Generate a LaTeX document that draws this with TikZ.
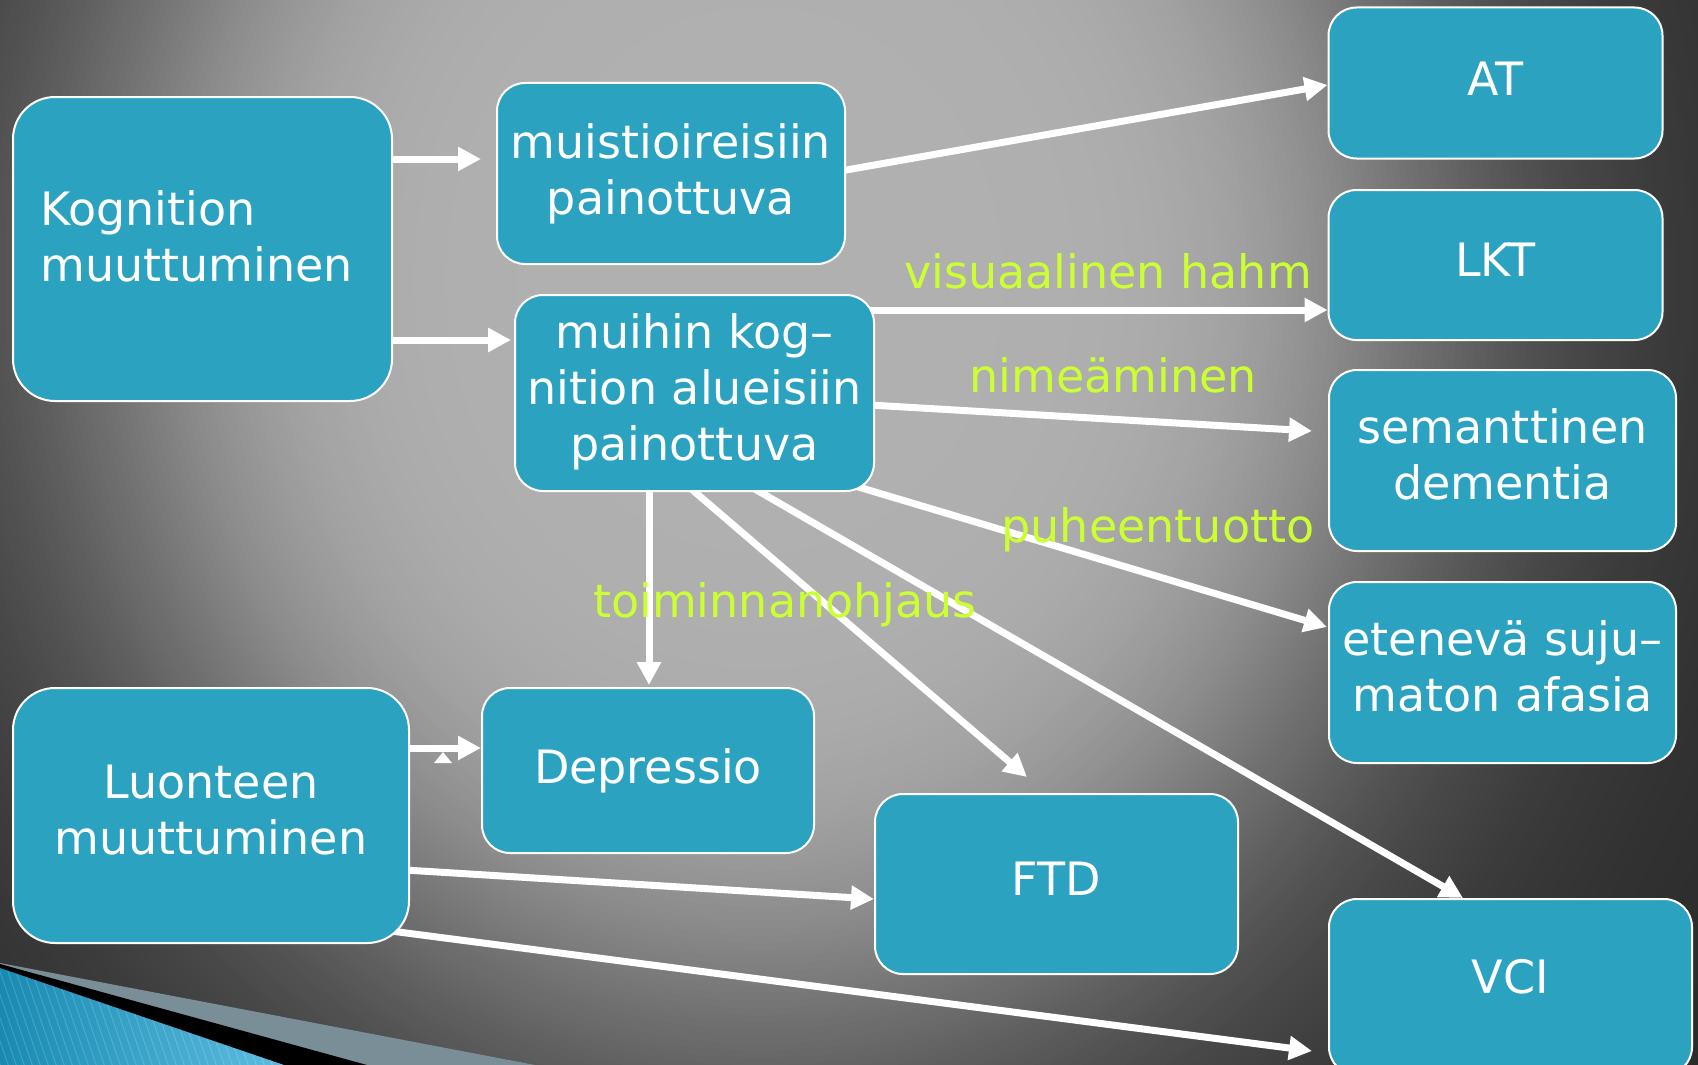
\documentclass[tikz,border=0pt]{standalone}
\usepackage{fontspec}
\setmainfont{DejaVu Sans}
\usetikzlibrary{arrows.meta,calc}
\definecolor{boxblue}{RGB}{43,162,192}
\definecolor{lbl}{RGB}{204,255,51}
\definecolor{bandgrey}{RGB}{122,142,152}
\definecolor{blueA}{RGB}{24,138,178}
\definecolor{blueB}{RGB}{95,190,225}
\pgfdeclarelayer{back}
\pgfdeclarelayer{lines}
\pgfsetlayers{back,lines,main}
\tikzset{
  box/.style={draw=white, line width=2pt, fill=boxblue, rounded corners=28pt,
    inner sep=0pt, text=white, font=\fontsize{46}{56}\selectfont, align=center},
  bigbox/.style={box, rounded corners=42pt},
  boxtext/.style={text=white, font=\fontsize{46}{56}\selectfont, inner sep=0pt},
  lbltext/.style={text=lbl, font=\fontsize{46}{56}\selectfont, inner sep=0pt, anchor=base},
  arr/.style={draw=white, line width=7pt, -{Triangle[length=23pt,width=23pt]}},
}
\begin{document}
\begin{tikzpicture}[x=1pt,y=-1pt]
\useasboundingbox (0,0) rectangle (1698,1065);

% background
\begin{pgfonlayer}{back}
\clip (0,0) rectangle (1698,1065);
\definecolor{bgc}{gray}{0.162}
\fill[bgc] (0,0) rectangle (1698,1065);
\foreach \k in {0,...,199}{
  \pgfmathsetmacro\t{1.6-\k*0.008}
  \pgfmathsetmacro\g{0.15+0.54/(1+(\t/0.85)^6)}
  \pgfmathsetmacro\rx{\t*800}
  \pgfmathsetmacro\ry{\t*900}
  \definecolor{bgc}{gray}{\g}
  \fill[bgc] (760,280) ellipse [x radius=\rx, y radius=\ry];
}
\end{pgfonlayer}

% bottom-left decoration
\fill[bandgrey] (0,963) -- (535,1065) -- (0,1065) -- cycle;
\fill[black] (0,964) -- (367,1065) -- (0,1065) -- cycle;
\begin{scope}
\clip (0,968) -- (284,1065) -- (0,1065) -- cycle;
\shade[left color=blueA, right color=blueB] (0,960) rectangle (290,1065);
\foreach \s in {-60,-52,...,300}
  \draw[white, opacity=0.16, line width=1pt] (\s,960) -- (\s+38,1070);
\end{scope}

% boxes
\node[bigbox, minimum width=379pt, minimum height=304pt] (kog) at (202.5,249) {};
\node[boxtext, anchor=west, align=left] (kogtxt) at (40,236.5) {Kognition\\muuttuminen};
\node[box, minimum width=348pt, minimum height=181pt] (mus) at (671,173.5) {muistioireisiin\\painottuva};
\node[box, minimum width=334pt, minimum height=151pt] (at) at (1495.5,83) {\raisebox{8pt}{AT}};
\node[box, minimum width=334pt, minimum height=150pt] (lkt) at (1495.5,265) {\raisebox{11pt}{LKT}};
\node[box, minimum width=359pt, minimum height=196pt] (muh) at (694.5,393) {\raisebox{2pt}{\begin{tabular}{@{}c@{}}muihin kog–\\nition alueisiin\\painottuva\end{tabular}}};
\node[box, minimum width=347pt, minimum height=181pt] (sem) at (1502.5,460.5) {\raisebox{3pt}{\begin{tabular}{@{}c@{}}semanttinen\\dementia\end{tabular}}};
\node[box, minimum width=347pt, minimum height=181pt] (ete) at (1502.5,672.5) {\raisebox{2pt}{\begin{tabular}{@{}c@{}}etenevä suju–\\maton afasia\end{tabular}}};
\node[bigbox, minimum width=396pt, minimum height=255pt] (luo) at (211,815.5) {\raisebox{3pt}{\begin{tabular}{@{}c@{}}Luonteen\\muuttuminen\end{tabular}}};
\node[box, minimum width=332pt, minimum height=165pt] (dep) at (648,770.5) {Depressio};
\node[box, minimum width=363pt, minimum height=180pt] (ftd) at (1056.5,884) {\raisebox{10pt}{FTD}};
\node[box, minimum width=363pt, minimum height=176pt] (vci) at (1510.5,987) {\raisebox{21pt}{VCI}};

% connectors
\begin{pgfonlayer}{lines}
\draw[arr] ($(kog.east)+(-5,-90)$) -- ($(mus.west)+(-15,-14.5)$);
\draw[arr] ($(kog.east)+(-5,91)$) -- ($(muh.west)+(-3,-53)$);
\draw[arr] ($(mus.east)+(-10,-1.7)$) -- ($(at.west)+(0,2)$);
\draw[arr] ($(muh.east)+(-5,-83)$) -- ($(lkt.west)+(0,45)$);
\draw[arr] ($(muh.east)+(-5,12)$) -- ($(sem.west)+(-16,-29.5)$);
\draw[arr] ($(muh.east)+(-30,90)$) -- ($(ete.west)+(-1,-45.5)$);
\draw[arr] ($(muh.south)+(-45.5,-5)$) -- ($(dep.north)+(1,-2)$);
\draw[arr] ($(muh.south)+(-3.5,-3.3)$) -- ($(ftd.north)+(-29.5,-16)$);
\draw[arr] ($(muh.south)+(60.3,-3)$) -- ($(vci.north)+(-47.5,0)$);
\draw[arr] ($(luo.east)+(-5,-67.5)$) -- ($(dep.west)+(0,-22.5)$);
\draw[arr] ($(luo.east)+(-5,54.5)$) -- ($(ftd.west)+(0,15)$);
\draw[arr] ($(luo.east)+(-29,114.2)$) -- ($(vci.west)+(-16,64)$);
\fill[white] ($(luo.east)+(24,-52.5)$) -- ($(luo.east)+(33,-63.5)$) -- ($(luo.east)+(42,-52.5)$) -- cycle;
\end{pgfonlayer}

% labels
\node[lbltext] (lvis) at (1108,288) {visuaalinen hahm};
\node[lbltext] (lnim) at (1113,392) {nimeäminen};
\node[lbltext] (lpuh) at (1158,542) {puheentuotto};
\node[lbltext] (ltoi) at (785,617) {toiminnanohjaus};
\end{tikzpicture}
\end{document}
